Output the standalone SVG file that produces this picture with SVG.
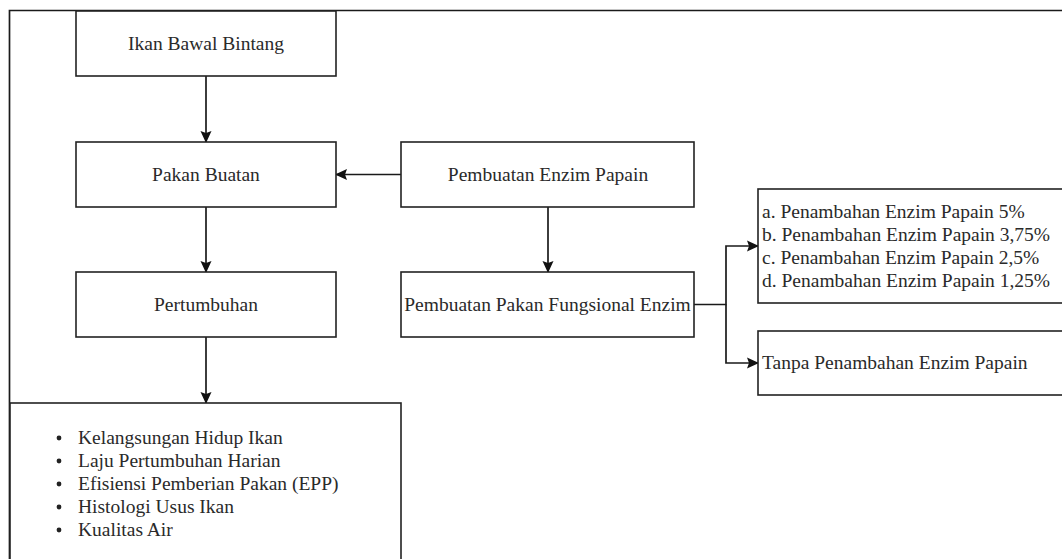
<svg xmlns="http://www.w3.org/2000/svg" width="1062" height="559" viewBox="0 0 1062 559">
<defs>
<style>
.box{fill:#fff;stroke:#222;stroke-width:1.6}
.line{fill:none;stroke:#1a1a1a;stroke-width:1.7}
.t{font-family:'Liberation Serif','Times New Roman','DejaVu Serif',serif;font-size:19.5px;fill:#2a2a2a}
.c{text-anchor:middle}
</style>
<marker id="arr" viewBox="0 0 12 12" refX="11" refY="6" markerWidth="12" markerHeight="12" markerUnits="userSpaceOnUse" orient="auto">
<path d="M0,0.5 L12,6 L0,11.5 L2,6 Z" fill="#111"/>
</marker>
</defs>
<rect width="1062" height="559" fill="#fff"/>
<path class="line" d="M9.5,559 V10.5 H1062"/>
<g id="connectors">
<path class="line" d="M206,76 V142" marker-end="url(#arr)"/>
<path class="line" d="M206,207 V272" marker-end="url(#arr)"/>
<path class="line" d="M206,337 V403" marker-end="url(#arr)"/>
<path class="line" d="M401,174.5 H336" marker-end="url(#arr)"/>
<path class="line" d="M548,207 V272" marker-end="url(#arr)"/>
<path class="line" d="M694,304.5 H726 V246 H758" marker-end="url(#arr)"/>
<path class="line" d="M726,304.5 V363 H758" marker-end="url(#arr)"/>
</g>
<g class="t" font-family="Liberation Serif, Times New Roman, DejaVu Serif, serif">
<g id="n1"><rect class="box" x="76" y="11" width="260" height="65"/><text class="c" x="206" y="50">Ikan Bawal Bintang</text></g>
<g id="n2"><rect class="box" x="76" y="142" width="260" height="65"/><text class="c" x="206" y="181">Pakan Buatan</text></g>
<g id="n3"><rect class="box" x="76" y="272" width="260" height="65"/><text class="c" x="206" y="311">Pertumbuhan</text></g>
<g id="n4"><rect class="box" x="10" y="403" width="391" height="170"/>
<g fill="#222"><circle cx="59" cy="438" r="2.4"/><circle cx="59" cy="461" r="2.4"/><circle cx="59" cy="484" r="2.4"/><circle cx="59" cy="507" r="2.4"/><circle cx="59" cy="530" r="2.4"/></g>
<text x="78" y="444">Kelangsungan Hidup Ikan</text>
<text x="78" y="467">Laju Pertumbuhan Harian</text>
<text x="78" y="490">Efisiensi Pemberian Pakan (EPP)</text>
<text x="78" y="513">Histologi Usus Ikan</text>
<text x="78" y="536">Kualitas Air</text>
</g>
<g id="n5"><rect class="box" x="401" y="142" width="293" height="65"/><text class="c" x="548" y="181">Pembuatan Enzim Papain</text></g>
<g id="n6"><rect class="box" x="401" y="272" width="293" height="65"/><text class="c" x="547.5" y="311">Pembuatan Pakan Fungsional Enzim</text></g>
<g id="n7"><rect class="box" x="758" y="189" width="320" height="114"/>
<text x="762" y="218">a. Penambahan Enzim Papain 5%</text>
<text x="762" y="241">b. Penambahan Enzim Papain 3,75%</text>
<text x="762" y="264">c. Penambahan Enzim Papain 2,5%</text>
<text x="762" y="287">d. Penambahan Enzim Papain 1,25%</text>
</g>
<g id="n8"><rect class="box" x="758" y="331" width="320" height="64"/><text x="762" y="369">Tanpa Penambahan Enzim Papain</text></g>
</g>
</svg>
